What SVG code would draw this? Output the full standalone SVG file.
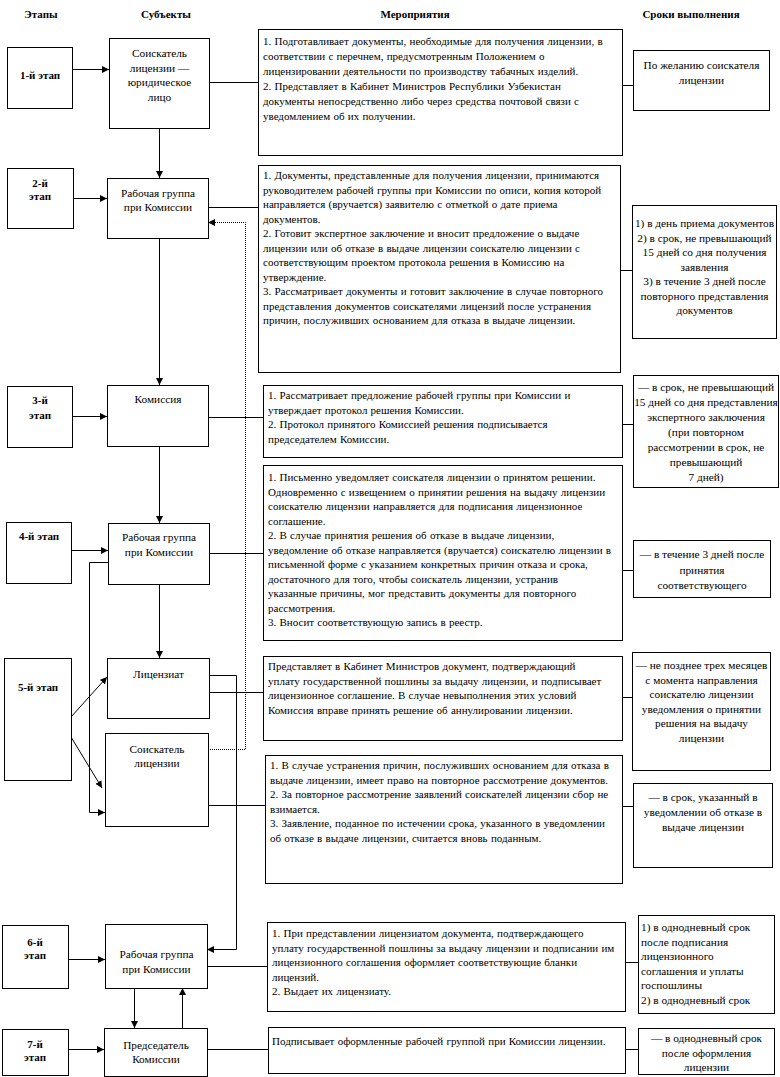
<svg xmlns="http://www.w3.org/2000/svg" width="780" height="1077" viewBox="0 0 780 1077" font-family="'Liberation Serif', 'Times New Roman', serif">
<style>
rect{fill:#fff;stroke:#000;stroke-width:1}
text{font-family:'Liberation Serif','Times New Roman',serif;font-size:11.3px;fill:#000}
.h{font-weight:bold;text-anchor:middle;font-size:11px}
.st{font-weight:bold;text-anchor:middle;font-size:11px}
.c{text-anchor:middle}
.a{font-size:11px;word-spacing:0.5px}
.ln{fill:none;stroke:#000;stroke-width:1}
.dot{fill:none;stroke:#000;stroke-width:1;stroke-dasharray:1,1}
</style>
<defs>
<marker id="arr" markerWidth="7" markerHeight="7" refX="7" refY="3.5" orient="auto" markerUnits="userSpaceOnUse"><path d="M0,0 L7,3.5 L0,7 z" fill="#000"/></marker>
</defs>
<rect x="0" y="0" width="780" height="1077" style="stroke:none"/>
<g id="headers">
<text class="h" x="41" y="18">Этапы</text>
<text class="h" x="166" y="18">Субъекты</text>
<text class="h" x="415" y="18">Мероприятия</text>
<text class="h" x="691" y="18">Сроки выполнения</text>
</g>
<g id="connectors">
<path class="ln" d="M72.5,69.5H109" marker-end="url(#arr)"/>
<path class="ln" d="M209,82.5H258"/>
<path class="ln" d="M622,85.5H633"/>
<path class="ln" d="M159.5,128V178" marker-end="url(#arr)"/>
<path class="ln" d="M73,198.5H107" marker-end="url(#arr)"/>
<path class="ln" d="M208,207.5H258"/>
<path class="ln" d="M620,270.5H632"/>
<path class="dot" d="M208,749.5H245.5V222.5H208" marker-end="url(#arr)"/>
<path class="ln" d="M159.5,238V385" marker-end="url(#arr)"/>
<path class="ln" d="M72,416.5H107" marker-end="url(#arr)"/>
<path class="ln" d="M208,417.5H263"/>
<path class="ln" d="M622,424.5H633"/>
<path class="ln" d="M159.5,446V523" marker-end="url(#arr)"/>
<path class="ln" d="M71,550.5H108" marker-end="url(#arr)"/>
<path class="ln" d="M209,553.5H263"/>
<path class="ln" d="M622,570.5H633"/>
<path class="ln" d="M108,562.5H89.5V812.5H105" marker-end="url(#arr)"/>
<path class="ln" d="M159.5,584V658" marker-end="url(#arr)"/>
<path class="ln" d="M71,717L107,677" marker-end="url(#arr)"/>
<path class="ln" d="M71,737L102,788" marker-end="url(#arr)"/>
<path class="ln" d="M209,692.5H263"/>
<path class="ln" d="M622,697.5H632"/>
<path class="ln" d="M209,675.5H236.5V949.5H207" marker-end="url(#arr)"/>
<path class="ln" d="M208,805.5H265"/>
<path class="ln" d="M622,806.5H633"/>
<path class="ln" d="M68,959.5H105" marker-end="url(#arr)"/>
<path class="ln" d="M207,966.5H267"/>
<path class="ln" d="M626,962.5H638"/>
<path class="ln" d="M134.5,988V1028" marker-end="url(#arr)"/>
<path class="ln" d="M182.5,1028V988" marker-end="url(#arr)"/>
<path class="ln" d="M68,1049.5H104" marker-end="url(#arr)"/>
<path class="ln" d="M207,1049.5H268"/>
<path class="ln" d="M626,1049.5H638"/>
</g>
<g id="stage1"><rect x="7.5" y="47.5" width="65" height="61"/><text class="st" x="40" y="79">1-й этап</text></g>
<g id="stage2"><rect x="7.5" y="168.5" width="66" height="60"/><text class="st" x="40" y="187">2-й</text><text class="st" x="40" y="200">этап</text></g>
<g id="stage3"><rect x="7.5" y="386.5" width="65" height="61"/><text class="st" x="40" y="404">3-й</text><text class="st" x="40" y="419">этап</text></g>
<g id="stage4"><rect x="6.5" y="522.5" width="65" height="61"/><text class="st" x="39" y="540">4-й этап</text></g>
<g id="stage5"><rect x="4.5" y="658.5" width="67" height="122"/><text class="st" x="38" y="691">5-й этап</text></g>
<g id="stage6"><rect x="2.5" y="925.5" width="66" height="63"/><text class="st" x="35" y="946">6-й</text><text class="st" x="35" y="959">этап</text></g>
<g id="stage7"><rect x="2.5" y="1029.5" width="66" height="46"/><text class="st" x="35" y="1048">7-й</text><text class="st" x="35" y="1061">этап</text></g>

<g id="subj1"><rect x="109.5" y="38.5" width="100" height="90"/>
<text class="c" x="159.5" y="57">Соискатель</text><text class="c" x="159.5" y="71.5">лицензии —</text><text class="c" x="159.5" y="86">юридическое</text><text class="c" x="159.5" y="100.5">лицо</text></g>
<g id="subj2"><rect x="107.5" y="178.5" width="101" height="60"/>
<text class="c" x="158" y="197">Рабочая группа</text><text class="c" x="158" y="211">при Комиссии</text></g>
<g id="subj3"><rect x="107.5" y="385.5" width="101" height="61"/><text class="c" x="158" y="403">Комиссия</text></g>
<g id="subj4"><rect x="108.5" y="523.5" width="101" height="61"/>
<text class="c" x="159" y="541">Рабочая группа</text><text class="c" x="159" y="556">при Комиссии</text></g>
<g id="subj5"><rect x="107.5" y="658.5" width="102" height="60"/><text class="c" x="158.5" y="678">Лицензиат</text></g>
<g id="subj6"><rect x="105.5" y="733.5" width="103" height="93"/>
<text class="c" x="157" y="753">Соискатель</text><text class="c" x="157" y="767">лицензии</text></g>
<g id="subj7"><rect x="105.5" y="924.5" width="102" height="64"/>
<text class="c" x="156.5" y="958">Рабочая группа</text><text class="c" x="156.5" y="973">при Комиссии</text></g>
<g id="subj8"><rect x="104.5" y="1028.5" width="103" height="48"/>
<text class="c" x="156" y="1049">Председатель</text><text class="c" x="156" y="1063">Комиссии</text></g>

<g id="act1"><rect x="258.5" y="29.5" width="364" height="126"/>
<text class="a" x="263" y="45">1. Подготавливает документы, необходимые для получения лицензии, в</text>
<text class="a" x="263" y="60">соответствии с перечнем, предусмотренным Положением о</text>
<text class="a" x="263" y="75">лицензировании деятельности по  производству табачных изделий.</text>
<text class="a" x="263" y="90">2. Представляет в Кабинет Министров Республики Узбекистан</text>
<text class="a" x="263" y="105">документы непосредственно либо через средства почтовой связи с</text>
<text class="a" x="263" y="120">уведомлением об их получении.</text></g>
<g id="act2"><rect x="258.5" y="165.5" width="362" height="207"/>
<text class="a" x="263" y="179">1. Документы, представленные для получения лицензии, принимаются</text>
<text class="a" x="263" y="193.5">руководителем рабочей группы при Комиссии по описи, копия которой</text>
<text class="a" x="263" y="208">направляется (вручается) заявителю с отметкой о дате приема</text>
<text class="a" x="263" y="222.5">документов.</text>
<text class="a" x="263" y="237">2. Готовит экспертное заключение и вносит предложение о выдаче</text>
<text class="a" x="263" y="251.5">лицензии или об отказе в выдаче лицензии соискателю лицензии с</text>
<text class="a" x="263" y="266">соответствующим проектом протокола решения в Комиссию на</text>
<text class="a" x="263" y="280.5">утверждение.</text>
<text class="a" x="263" y="295">3. Рассматривает документы и готовит заключение в случае повторного</text>
<text class="a" x="263" y="309.5">представления документов соискателями лицензий после устранения</text>
<text class="a" x="263" y="324">причин, послуживших основанием для отказа в выдаче лицензии.</text></g>
<g id="act3"><rect x="263.5" y="385.5" width="359" height="72"/>
<text class="a" x="268" y="399">1. Рассматривает предложение рабочей группы при Комиссии и</text>
<text class="a" x="268" y="413.5">утверждает протокол решения Комиссии.</text>
<text class="a" x="268" y="428">2. Протокол принятого Комиссией решения подписывается</text>
<text class="a" x="268" y="442.5">председателем Комиссии.</text></g>
<g id="act4"><rect x="263.5" y="465.5" width="359" height="175"/>
<text class="a" x="268" y="481">1. Письменно уведомляет соискателя лицензии о принятом решении.</text>
<text class="a" x="268" y="495.5">Одновременно с извещением о принятии решения на выдачу лицензии</text>
<text class="a" x="268" y="510">соискателю лицензии направляется для подписания лицензионное</text>
<text class="a" x="268" y="524.5">соглашение.</text>
<text class="a" x="268" y="539">2. В случае принятия решения об отказе в выдаче лицензии,</text>
<text class="a" x="268" y="553.5">уведомление об отказе направляется (вручается) соискателю лицензии в</text>
<text class="a" x="268" y="568">письменной форме с указанием конкретных причин отказа и срока,</text>
<text class="a" x="268" y="582.5">достаточного для того, чтобы соискатель лицензии, устранив</text>
<text class="a" x="268" y="597">указанные причины, мог представить документы для повторного</text>
<text class="a" x="268" y="611.5">рассмотрения.</text>
<text class="a" x="268" y="626">3. Вносит соответствующую запись в реестр.</text></g>
<g id="act5a"><rect x="263.5" y="656.5" width="359" height="84"/>
<text class="a" x="268" y="670">Представляет в Кабинет Министров документ, подтверждающий</text>
<text class="a" x="268" y="684.5">уплату государственной пошлины за выдачу лицензии, и подписывает</text>
<text class="a" x="268" y="699">лицензионное соглашение. В случае невыполнения этих условий</text>
<text class="a" x="268" y="713.5">Комиссия вправе принять решение об аннулировании лицензии.</text></g>
<g id="act5b"><rect x="265.5" y="755.5" width="357" height="128"/>
<text class="a" x="270" y="769">1. В случае устранения причин, послуживших основанием для отказа в</text>
<text class="a" x="270" y="783.5">выдаче лицензии, имеет право на повторное рассмотрение документов.</text>
<text class="a" x="270" y="798">2. За повторное рассмотрение заявлений соискателей лицензии сбор не</text>
<text class="a" x="270" y="812.5">взимается.</text>
<text class="a" x="270" y="827">3. Заявление, поданное по истечении срока, указанного в уведомлении</text>
<text class="a" x="270" y="841.5">об отказе в выдаче лицензии, считается вновь поданным.</text></g>
<g id="act6"><rect x="267.5" y="922.5" width="358" height="89"/>
<text class="a" x="272" y="937">1. При представлении лицензиатом документа, подтверждающего</text>
<text class="a" x="272" y="951.5">уплату государственной пошлины за выдачу лицензии и подписании им</text>
<text class="a" x="272" y="966">лицензионного соглашения оформляет соответствующие бланки</text>
<text class="a" x="272" y="980.5">лицензий.</text>
<text class="a" x="272" y="995">2. Выдает их лицензиату.</text></g>
<g id="act7"><rect x="268.5" y="1027.5" width="357" height="46"/>
<text class="a" x="272" y="1045">Подписывает оформленные рабочей группой при Комиссии  лицензии.</text></g>

<g id="term1"><rect x="633.5" y="50.5" width="136" height="60"/>
<text class="c" x="701.5" y="69">По желанию соискателя</text><text class="c" x="701.5" y="84">лицензии</text></g>
<g id="term2"><rect x="632.5" y="205.5" width="144" height="133"/>
<text class="c" x="704.5" y="227">1) в день приема документов</text>
<text class="c" x="704.5" y="241.5">2) в срок, не превышающий</text>
<text class="c" x="704.5" y="256">15 дней со дня получения</text>
<text class="c" x="704.5" y="270.5">заявления</text>
<text class="c" x="704.5" y="285">3) в течение 3 дней после</text>
<text class="c" x="704.5" y="299.5">повторного представления</text>
<text class="c" x="704.5" y="314">документов</text></g>
<g id="term3"><rect x="633.5" y="375.5" width="145" height="112"/>
<text class="c" x="706" y="391">— в срок, не превышающий</text>
<text class="c" x="706" y="406">15 дней со дня представления</text>
<text class="c" x="706" y="421">экспертного заключения</text>
<text class="c" x="706" y="436">(при повторном</text>
<text class="c" x="706" y="451">рассмотрении в срок, не</text>
<text class="c" x="706" y="466">превышающий</text>
<text class="c" x="706" y="481">7 дней)</text></g>
<g id="term4"><rect x="633.5" y="540.5" width="137" height="57"/>
<text class="c" x="702" y="558">— в течение 3 дней после</text>
<text class="c" x="702" y="573.5">принятия</text>
<text class="c" x="702" y="589">соответствующего</text></g>
<g id="term5a"><rect x="632.5" y="652.5" width="138" height="118"/>
<text class="c" x="701.5" y="669">— не позднее трех месяцев</text>
<text class="c" x="701.5" y="683.5">с момента направления</text>
<text class="c" x="701.5" y="698">соискателю лицензии</text>
<text class="c" x="701.5" y="712.5">уведомления о принятии</text>
<text class="c" x="701.5" y="727">решения на выдачу</text>
<text class="c" x="701.5" y="741.5">лицензии</text></g>
<g id="term5b"><rect x="633.5" y="783.5" width="139" height="84"/>
<text class="c" x="703" y="801">— в срок, указанный в</text>
<text class="c" x="703" y="816">уведомлении об отказе в</text>
<text class="c" x="703" y="831">выдаче лицензии</text></g>
<g id="term6"><rect x="638.5" y="915.5" width="136" height="98"/>
<text x="641" y="931">1) в однодневный срок</text>
<text x="641" y="945.5">после подписания</text>
<text x="641" y="960">лицензионного</text>
<text x="641" y="974.5">соглашения и уплаты</text>
<text x="641" y="989">госпошлины</text>
<text x="641" y="1003.5">2) в однодневный срок</text></g>
<g id="term7"><rect x="638.5" y="1028.5" width="136" height="46"/>
<text class="c" x="706.5" y="1042">— в однодневный срок</text>
<text class="c" x="706.5" y="1056.5">после оформления</text>
<text class="c" x="706.5" y="1071">лицензии</text></g>
</svg>
